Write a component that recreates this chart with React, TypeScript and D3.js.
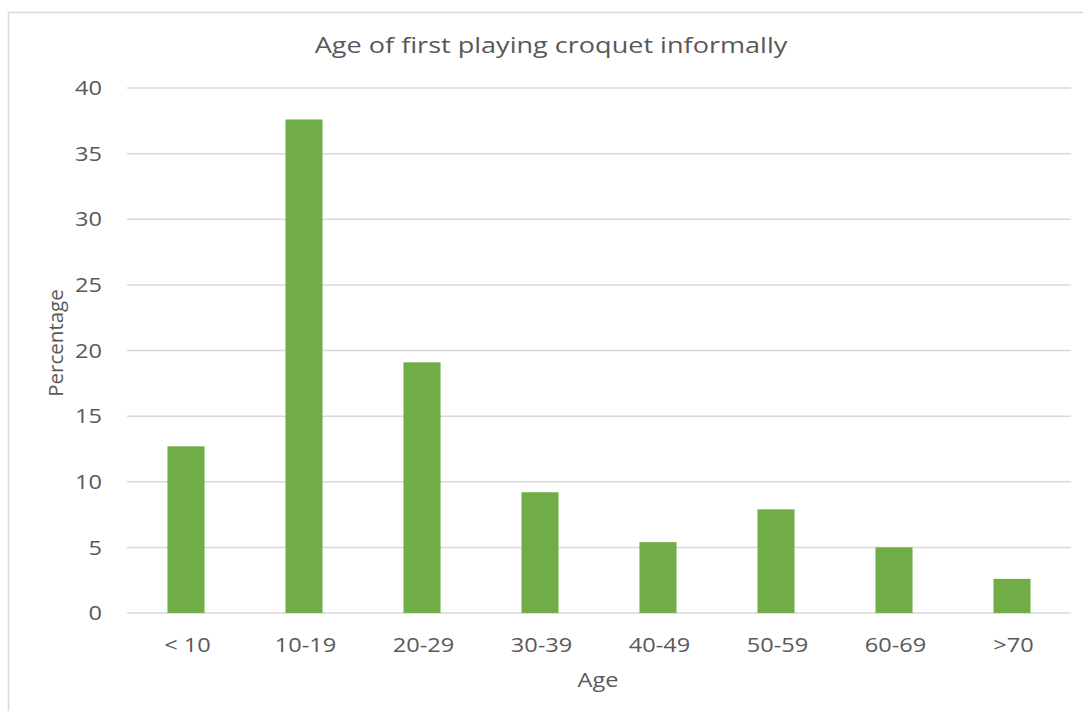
import React from "react";
import * as d3 from "d3";

const categories = ["< 10", "10-19", "20-29", "30-39", "40-49", "50-59", "60-69", ">70"];
const percentages = [12.7, 37.6, 19.1, 9.2, 5.4, 7.9, 5.0, 2.6];
const yTicks = [0, 5, 10, 15, 20, 25, 30, 35, 40];
const title = "Age of first playing croquet informally";
const xTitle = "Age";
const yTitle = "Percentage";

const W = 1083;
const H = 711;
const plot = { left: 127, right: 1071, top: 88, bottom: 613 };
const FONT = "'Open Sans', sans-serif";
const TEXT = "#595959";
const SX = 1.15;

export default function App() {
  const x = d3
    .scaleBand<string>()
    .domain(categories)
    .range([plot.left, plot.right])
    .paddingInner(0.686)
    .paddingOuter(0.343);
  const y = d3.scaleLinear().domain([0, 40]).range([plot.bottom, plot.top]);

  return (
    <svg
      width={W}
      height={H}
      style={{ position: "absolute", left: 0, top: 0, background: "#fff" }}
      fontFamily={FONT}
    >
      <rect x={8.5} y={12.5} width={W} height={H} fill="#fff" stroke="#d9d9d9" strokeWidth={1.5} />
      <g transform={`translate(551,53) scale(1.23,1)`}>
        <text x={0} y={0} textAnchor="middle" fontSize={22} fill={TEXT}>
          {title}
        </text>
      </g>
      {yTicks.map((t) => (
        <g key={t}>
          <line x1={plot.left} x2={plot.right} y1={y(t)} y2={y(t)} stroke="#d9d9d9" strokeWidth={1.5} />
          <g transform={`translate(102,${y(t)}) scale(${SX},1)`}>
            <text x={0} y={0} dy="0.35em" textAnchor="end" fontSize={20.5} fill={TEXT}>
              {t}
            </text>
          </g>
        </g>
      ))}
      {categories.map((c, i) => (
        <rect
          key={c}
          x={x(c)}
          y={y(percentages[i])}
          width={x.bandwidth()}
          height={y(0) - y(percentages[i])}
          fill="#70ad47"
        />
      ))}
      {categories.map((c) => (
        <g key={c} transform={`translate(${(x(c) as number) + x.bandwidth() / 2 + 1.5},652) scale(${SX},1)`}>
          <text x={0} y={0} textAnchor="middle" fontSize={20.5} fill={TEXT}>
            {c}
          </text>
        </g>
      ))}
      <g transform={`translate(598,687) scale(${SX},1)`}>
        <text x={0} y={0} textAnchor="middle" fontSize={20.5} fill={TEXT}>
          {xTitle}
        </text>
      </g>
      <text
        transform={`translate(63,343) rotate(-90)`}
        textAnchor="middle"
        fontSize={20.5}
        fill={TEXT}
      >
        {yTitle}
      </text>
    </svg>
  );
}
